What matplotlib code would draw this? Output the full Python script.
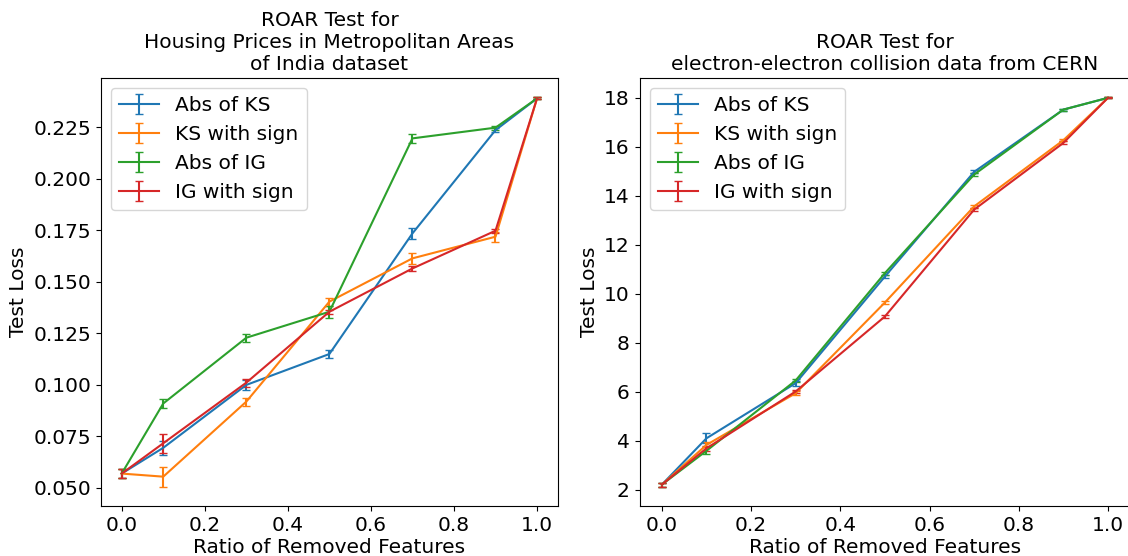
import numpy as np
import matplotlib.pyplot as plt

ratios = [0.0, 0.1, 0.3, 0.5, 0.7, 0.9, 1.0]
labels = ['Abs of KS', 'KS with sign', 'Abs of IG', 'IG with sign']

# Housing prices dataset
india_mean = [
    [0.057, 0.0695, 0.100, 0.115, 0.1735, 0.2236, 0.239],
    [0.057, 0.0555, 0.0919, 0.1404, 0.1614, 0.1719, 0.239],
    [0.057, 0.091, 0.1229, 0.1355, 0.2196, 0.2248, 0.239],
    [0.057, 0.0717, 0.1011, 0.1355, 0.1565, 0.1748, 0.239],
]
india_err = [
    [0.002, 0.0035, 0.0025, 0.002, 0.0025, 0.001, 0.0005],
    [0.002, 0.0048, 0.002, 0.002, 0.0025, 0.0025, 0.0005],
    [0.002, 0.002, 0.002, 0.003, 0.002, 0.001, 0.0005],
    [0.002, 0.0045, 0.002, 0.001, 0.001, 0.001, 0.0005],
]

# CERN dataset
cern_mean = [
    [2.22, 4.11, 6.36, 10.71, 14.98, 17.52, 18.0],
    [2.22, 3.84, 5.95, 9.65, 13.57, 16.27, 18.0],
    [2.22, 3.60, 6.47, 10.85, 14.87, 17.52, 18.0],
    [2.22, 3.70, 6.02, 9.08, 13.44, 16.16, 18.0],
]
cern_err = [
    [0.08, 0.2, 0.1, 0.08, 0.06, 0.04, 0.02],
    [0.08, 0.1, 0.08, 0.06, 0.06, 0.04, 0.02],
    [0.08, 0.15, 0.06, 0.06, 0.06, 0.04, 0.02],
    [0.08, 0.1, 0.08, 0.05, 0.06, 0.06, 0.02],
]

plt.rcParams['font.size'] = 14.5
plt.rcParams['axes.titlesize'] = 14.5

fig = plt.figure(figsize=(11.28, 5.56), dpi=100)
ax1 = fig.add_axes([0.0895, 0.0899, 0.405, 0.770])
ax2 = fig.add_axes([0.567, 0.0899, 0.435, 0.770])

for m, e, lab in zip(india_mean, india_err, labels):
    ax1.errorbar(ratios, m, yerr=e, capsize=3, label=lab)
ax1.set_title('ROAR Test for\nHousing Prices in Metropolitan Areas\nof India dataset')
ax1.set_xlabel('Ratio of Removed Features', labelpad=2)
ax1.set_ylabel('Test Loss')
ax1.set_yticks(np.arange(0.05, 0.2251, 0.025))
ax1.legend(loc='upper left')

for m, e, lab in zip(cern_mean, cern_err, labels):
    ax2.errorbar(ratios, m, yerr=e, capsize=3, label=lab)
ax2.set_title('ROAR Test for\nelectron-electron collision data from CERN')
ax2.set_xlabel('Ratio of Removed Features', labelpad=2)
ax2.set_ylabel('Test Loss')
ax2.set_yticks(np.arange(2, 19, 2))
ax2.legend(loc='upper left')

fig.savefig('out.png')
